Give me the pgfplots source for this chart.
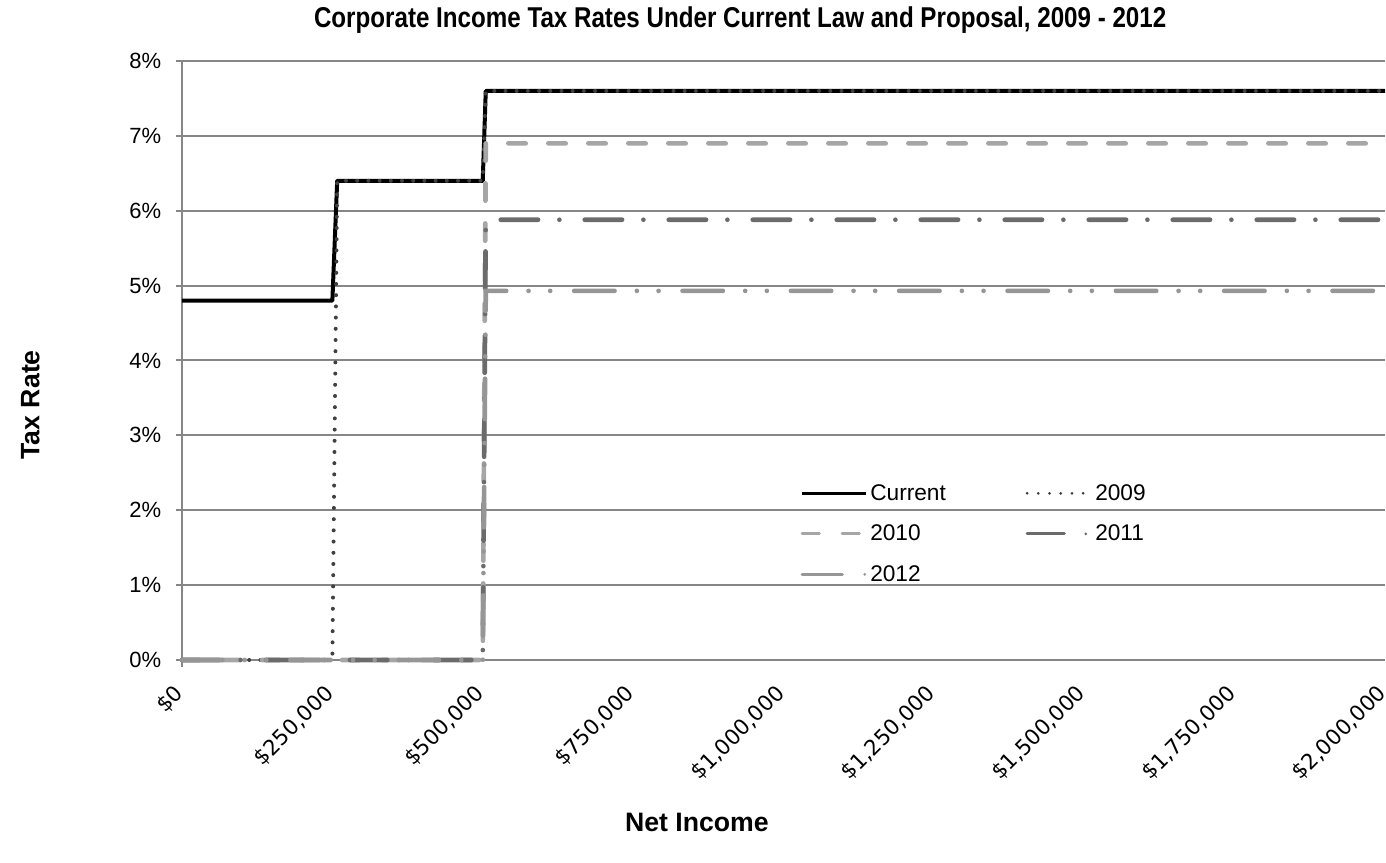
\documentclass[border=0pt]{standalone}
\usepackage{fontspec}
\setmainfont{Liberation Sans}
\newfontfamily\xtickfont{DejaVu Sans}
\usepackage{graphicx}
\usepackage{pgfplots}
\pgfplotsset{compat=1.18}
\definecolor{gridgray}{HTML}{868686}
\definecolor{c2009}{HTML}{404040}
\definecolor{c2010}{HTML}{A6A6A6}
\definecolor{c2011}{HTML}{6B6B6B}
\definecolor{c2012}{HTML}{969696}
\begin{document}
\begin{tikzpicture}
\useasboundingbox (0,0) rectangle (1039.5pt,647.25pt);
\begin{axis}[
  at={(136.5pt,152.25pt)}, anchor=south west,
  scale only axis, width=902.25pt, height=449.25pt,
  xmin=0, xmax=2000000, ymin=0, ymax=8,
  clip=false,
  scaled x ticks=false,
  axis x line*=bottom, axis y line*=left,
  axis line style={gridgray, line width=1.5pt, -},
  y axis line style={shorten <=-5pt},
  ymajorgrids, grid style={gridgray, line width=1.5pt},
  tick align=outside, major tick length=4.5pt,
  tick style={gridgray, line width=1.5pt},
  xtick style={draw=none},
  ytick={0,1,2,3,4,5,6,7,8},
  yticklabels={{0\%},{1\%},{2\%},{3\%},{4\%},{5\%},{6\%},{7\%},{8\%}},
  yticklabel style={font=\fontsize{16.5pt}{18pt}\selectfont, xshift=-7.5pt},
  xtick={0,250000,500000,750000,1000000,1250000,1500000,1750000,2000000},
  xticklabels={{\$0},{\$250,000},{\$500,000},{\$750,000},{\$1,000,000},{\$1,250,000},{\$1,500,000},{\$1,750,000},{\$2,000,000}},
  xticklabel style={font=\xtickfont\fontsize{16pt}{18pt}\selectfont, xshift=0.75pt, yshift=-15.5pt, anchor=east, rotate=45},
  title={\scalebox{0.843}[1]{Corporate Income Tax Rates Under Current Law and Proposal, 2009 - 2012}},
  title style={at={(rel axis cs:0.464,1.055)}, anchor=center, font=\bfseries\fontsize{21.5pt}{24pt}\selectfont},
  xlabel={Net Income},
  xlabel style={at={(rel axis cs:0.428,-0.272)}, anchor=center, font=\bfseries\fontsize{20pt}{24pt}\selectfont},
  ylabel={Tax Rate},
  ylabel style={at={(rel axis cs:-0.126,0.426)}, anchor=center, font=\bfseries\fontsize{20pt}{24pt}\selectfont},
  legend columns=2,
  legend cell align=left,
  legend image code/.code={\draw[#1, line width=2.25pt] (0pt,0pt) -- (48pt,0pt);},
  legend style={draw=none, fill=none, at={(rel axis cs:0.514,0.298)}, anchor=north west,
    font=\fontsize{17pt}{20pt}\selectfont, inner sep=0pt, /tikz/row sep=13pt},
]
\addplot[black, line width=3pt, line join=round] coordinates {
  (0,4.8) (250000,4.8) (258000,6.4) (500000,6.4) (505000,7.6) (2000000,7.6)};
\addlegendentry{\makebox[114.5pt][l]{Current}}
\addplot[c2009, line width=3pt, line cap=round, dash pattern=on 0pt off 8.4pt] coordinates {
  (0,0) (250000,0) (258000,6.4) (500000,6.4) (505000,7.6) (2000000,7.6)};
\addlegendentry{2009}
\addplot[c2010, line width=3.5pt, line cap=round, dash pattern=on 13pt off 17pt] coordinates {
  (0,0) (500000,0) (505000,6.9) (2000000,6.9)};
\addlegendentry{\makebox[114.5pt][l]{2010}}
\addplot[c2011, line width=3.5pt, line cap=round, dash pattern=on 28pt off 16pt on 0pt off 19pt] coordinates {
  (0,0) (500000,0) (505000,5.88) (2000000,5.88)};
\addlegendentry{2011}
\addplot[c2012, line width=3.5pt, line cap=round, dash pattern=on 30.25pt off 16.75pt on 0pt off 16.25pt on 0pt off 18pt] coordinates {
  (0,0) (500000,0) (505000,4.93) (2000000,4.93)};
\addlegendentry{2012}
\end{axis}
\end{tikzpicture}
\end{document}
